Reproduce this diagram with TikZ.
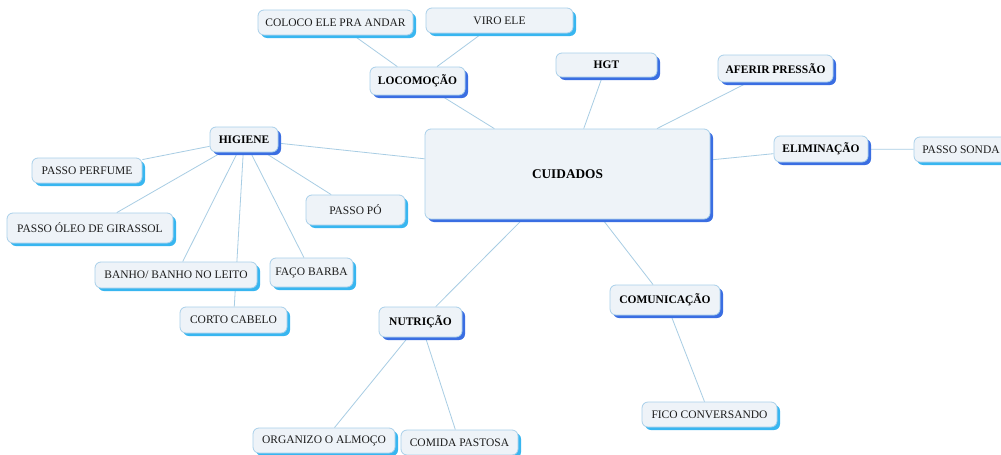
\documentclass[tikz,border=0pt]{standalone}
\usepackage{fontspec}
\setmainfont{Liberation Serif}
\usetikzlibrary{shadows,backgrounds}
\definecolor{boxfill}{HTML}{EEF3F8}
\definecolor{boxline}{HTML}{A9D0EA}
\definecolor{shmain}{HTML}{3A6EE2}
\definecolor{shleaf}{HTML}{38B6F0}
\definecolor{edgecol}{HTML}{A8CDE4}
\definecolor{leaftext}{HTML}{1C1C1C}
\tikzset{
  box/.style={draw=boxline, line width=0.8pt, fill=boxfill, rounded corners=6pt,
    inner sep=0pt, font=\fontsize{11.5}{13}\selectfont},
  mainbox/.style={box, font=\fontsize{11.5}{13}\selectfont\bfseries, text=black,
    drop shadow={shadow xshift=3pt, shadow yshift=-3pt, fill=shmain, opacity=1}},
  centerbox/.style={mainbox, font=\fontsize{13.3}{15}\selectfont\bfseries},
  leafbox/.style={box, text=leaftext,
    drop shadow={shadow xshift=3pt, shadow yshift=-3pt, fill=shleaf, opacity=1}},
  conn/.style={draw=edgecol, line width=0.8pt}
}
\newcommand{\bx}[6]{\node[#1, minimum width=#4pt, minimum height=#5pt] (#2) at (#3) {#6};}
\begin{document}
\begin{tikzpicture}[x=1pt,y=-1pt]
\useasboundingbox (0,0) rectangle (1001,455);
\bx{centerbox}{cu}{567.5,174}{285}{90}{CUIDADOS}
\bx{mainbox}{loc}{417.5,81}{95}{28}{LOCOMOÇÃO}
\bx{leafbox}{col}{335.5,22.5}{155}{25}{COLOCO ELE PRA ANDAR}
\bx{leafbox}{viro}{499.5,20.5}{147}{25}{VIRO ELE}
\bx{mainbox}{hgt}{606.5,65}{101}{24}{HGT}
\bx{mainbox}{afe}{775.5,68.5}{115}{27}{AFERIR PRESSÃO}
\bx{mainbox}{eli}{821,149}{94}{26}{ELIMINAÇÃO}
\bx{leafbox}{son}{961,149.5}{94}{25}{PASSO SONDA}
\bx{mainbox}{hig}{244,139.5}{68}{25}{HIGIENE}
\bx{leafbox}{per}{87,170.5}{110}{25}{PASSO PERFUME}
\bx{leafbox}{ole}{90,228}{166}{30}{PASSO ÓLEO DE GIRASSOL}
\bx{leafbox}{po}{355.5,210}{99}{30}{PASSO PÓ}
\bx{leafbox}{ban}{176,275}{162}{26}{BANHO/ BANHO NO LEITO}
\bx{leafbox}{bar}{311.5,272.5}{83}{29}{FAÇO BARBA}
\bx{leafbox}{cor}{233.5,320}{107}{26}{CORTO CABELO}
\bx{mainbox}{nut}{420.5,322}{83}{30}{NUTRIÇÃO}
\bx{leafbox}{org}{324,440.5}{142}{25}{ORGANIZO O ALMOÇO}
\bx{leafbox}{com}{459.5,442.5}{117}{25}{COMIDA PASTOSA}
\bx{mainbox}{cmu}{665,300}{110}{30}{COMUNICAÇÃO}
\bx{leafbox}{fic}{709.5,414.5}{135}{25}{FICO CONVERSANDO}
\begin{scope}[on background layer]
\fill[white] (0,0) rectangle (1001,455);
\draw[conn] (cu) -- (loc);
\draw[conn] (cu) -- (hgt);
\draw[conn] (cu) -- (afe);
\draw[conn] (cu) -- (eli);
\draw[conn] (cu) -- (hig);
\draw[conn] (cu) -- (nut);
\draw[conn] (cu) -- (cmu);
\draw[conn] (loc) -- (col);
\draw[conn] (loc) -- (viro);
\draw[conn] (eli) -- (son);
\draw[conn] (hig) -- (per);
\draw[conn] (hig) -- (ole);
\draw[conn] (hig) -- (ban);
\draw[conn] (hig) -- (cor);
\draw[conn] (hig) -- (bar);
\draw[conn] (hig) -- (po);
\draw[conn] (nut) -- (org);
\draw[conn] (nut) -- (com);
\draw[conn] (cmu) -- (fic);
\end{scope}
\end{tikzpicture}
\end{document}
